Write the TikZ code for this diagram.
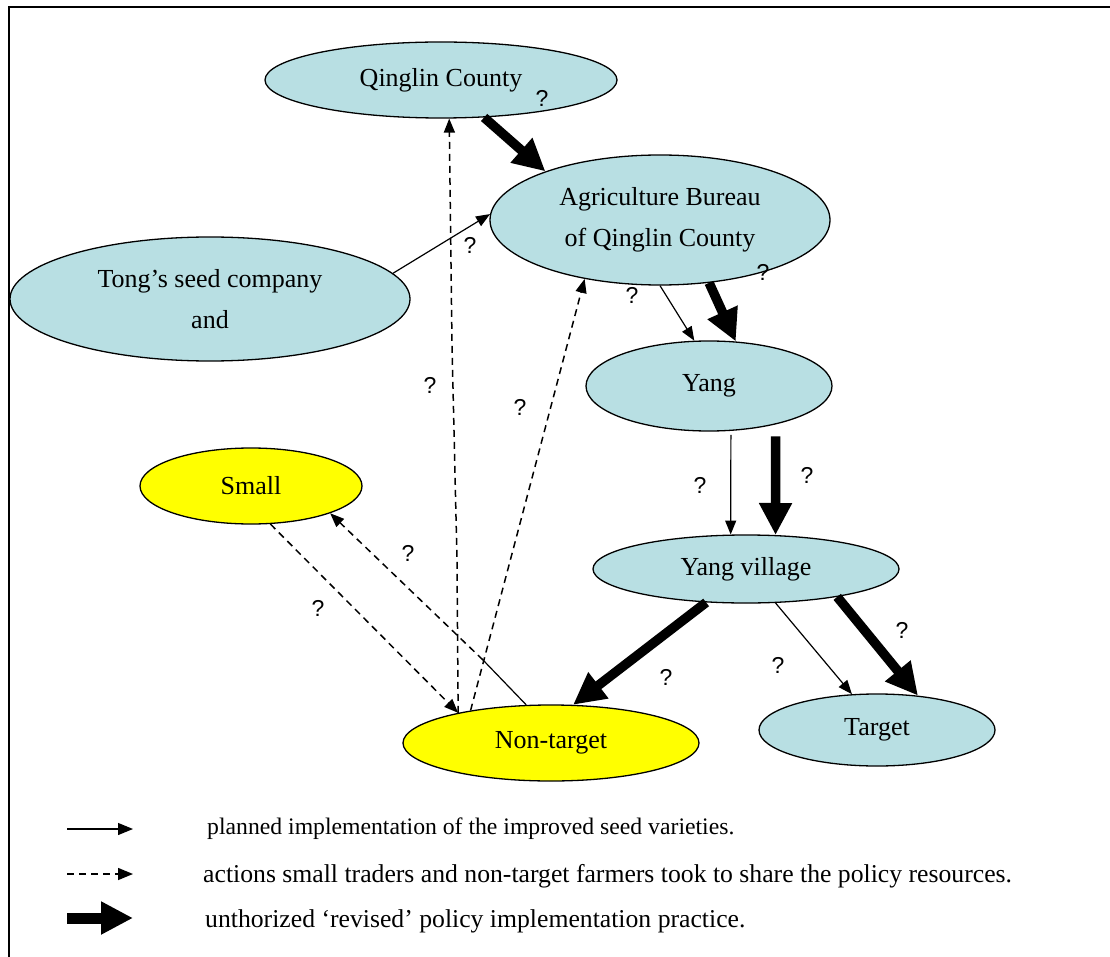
\documentclass[tikz,border=0pt]{standalone}
\usepackage{fontspec}
\setmainfont{Liberation Serif}
\newfontfamily\qfont{Liberation Sans}
\usetikzlibrary{arrows.meta, shapes.geometric}
\definecolor{pblue}{RGB}{184,223,227}
\definecolor{pyellow}{RGB}{255,255,0}

\begin{document}
\begin{tikzpicture}[x=1pt,y=-1pt,
  actor/.style={ellipse,draw,line width=1.3pt,fill=pblue,inner sep=0pt,
                align=center,font=\fontsize{26}{41}\selectfont},
  farmer/.style={actor,fill=pyellow},
  plan/.style={-{Triangle[length=14pt,width=11pt]},line width=1.2pt},
  share/.style={plan,dash pattern=on 7pt off 5pt,line width=1.5pt},
  revised/.style={-{Triangle[length=32pt,width=31pt]},line width=9.5pt},
  qmark/.style={inner sep=0pt,font=\qfont\fontsize{23}{23}\selectfont},
  legtext/.style={anchor=west,inner sep=0pt,font=\fontsize{25.7}{26}\selectfont}
]
\useasboundingbox (0,0) rectangle (1110,957);
\draw[line width=2pt] (1110,7) -- (9,7) -- (9,957);

\node[actor,minimum width=352pt,minimum height=76pt] (qing) at (441,80) {Qinglin County};
\node[actor,minimum width=340pt,minimum height=130pt] (agri) at (660,220) {Agriculture Bureau\\of Qinglin County};
\node[actor,minimum width=400pt,minimum height=124pt] (tong) at (210,299) {Tong’s seed company\\and};
\node[actor,minimum width=246pt,minimum height=90pt] (yang) at (709,386) {Yang};
\node[farmer,minimum width=222pt,minimum height=76pt] (small) at (251,486) {Small};
\node[actor,minimum width=306pt,minimum height=68pt] (yvil) at (746,569) {Yang village};
\node[farmer,minimum width=296pt,minimum height=76pt] (nont) at (551,743) {Non-target};
\node[actor,minimum width=236pt,minimum height=72pt] (target) at (877,730) {Target};

\draw[revised] (qing.-41) -- (agri.157);
\draw[plan] (tong.8) -- (agri.178);
\draw[plan] (agri.-90) -- (yang.108);
\draw[revised] (agri.-52) -- (yang.59);
\draw[plan,shorten <=4pt] (yang.-64) -- (yvil.114);
\draw[revised,shorten <=12pt] (yang.-30) -- (yvil.49);
\draw[revised] (yvil.-140) -- (nont.60);
\draw[plan] (yvil.-49) -- (target.125);
\draw[revised] (yvil.-17) -- (target.40);
\draw[share] (small.-63) -- (nont.162);
\coordinate (brk) at (483,660);
\draw[line width=1.2pt] (nont.123) -- (brk);
\draw[share] (brk) -- (small.-19);
\coordinate (kinkA) at (452,345);
\coordinate (kinkB) at (457,560);
\draw[share] (nont.162) -- (kinkB) -- (kinkA) -- (qing.-78);
\draw[share] (nont.158) -- (agri.-142);

\node[qmark] (q1) at (542,98) {?};
\node[qmark] (q2) at (470,245) {?};
\node[qmark] (q3) at (632,295) {?};
\node[qmark] (q4) at (763,272) {?};
\node[qmark] (q5) at (430,385) {?};
\node[qmark] (q6) at (520,407) {?};
\node[qmark] (q7) at (700,485) {?};
\node[qmark] (q8) at (807,475) {?};
\node[qmark] (q9) at (408,553) {?};
\node[qmark] (q10) at (318,608) {?};
\node[qmark] (q11) at (666,677) {?};
\node[qmark] (q12) at (778,665) {?};
\node[qmark] (q13) at (902,630) {?};

\coordinate (p0) at (67,829); \coordinate (p1) at (133,829);
\coordinate (s0) at (67,874); \coordinate (s1) at (133,874);
\coordinate (r0) at (67,918); \coordinate (r1) at (133,918);
\draw[plan,-{Triangle[length=15pt,width=12pt]}] (p0) -- (p1);
\draw[share,-{Triangle[length=15pt,width=12pt]}] (s0) -- (s1);
\draw[revised,line width=11pt] (r0) -- (r1);
\node[legtext,font=\fontsize{23.7}{24}\selectfont] (planTxt) at (207,829) {planned implementation of the improved seed varieties.};
\node[legtext] (shareTxt) at (203,876) {actions small traders and non-target farmers took to share the policy resources.};
\node[legtext] (revTxt) at (205,921) {unthorized ‘revised’ policy implementation practice.};
\end{tikzpicture}
\end{document}
